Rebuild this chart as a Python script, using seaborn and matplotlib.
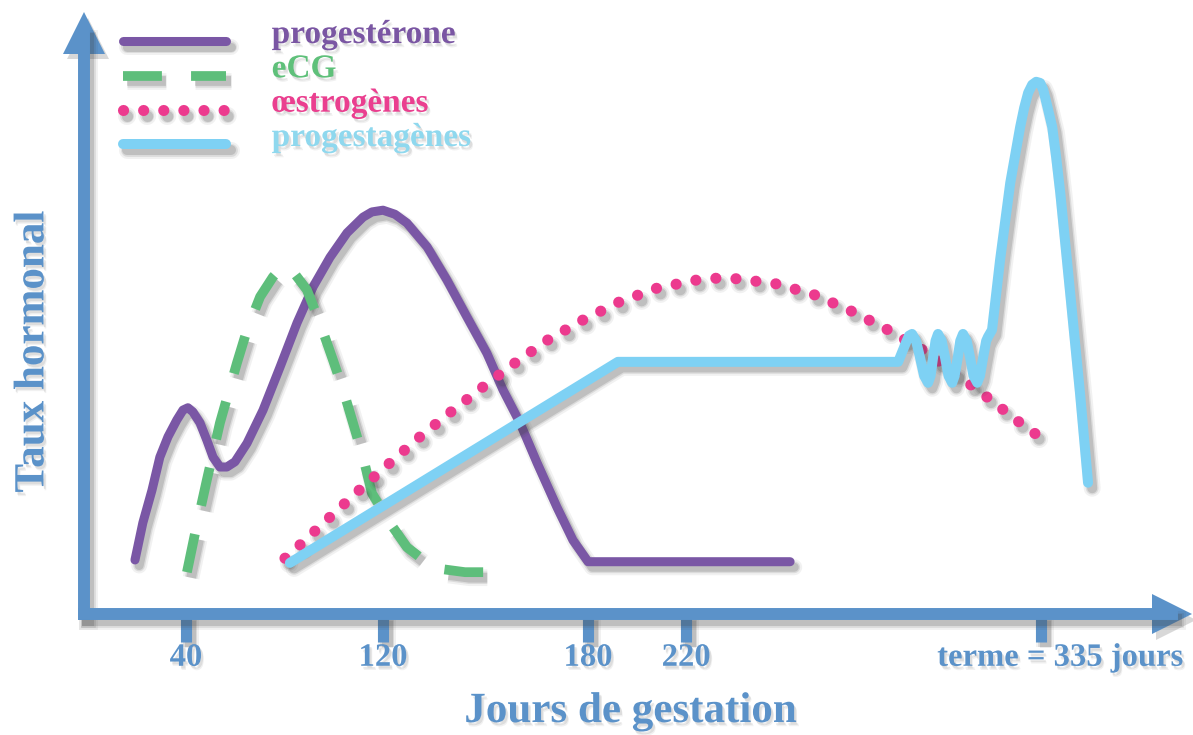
import numpy as np
import matplotlib
matplotlib.use("Agg")
import matplotlib.pyplot as plt
import matplotlib.patheffects as pe
from matplotlib.lines import Line2D
from matplotlib.legend_handler import HandlerLine2D
from matplotlib.transforms import ScaledTranslation
import seaborn as sns

progesterone_j = [19.3, 22.5, 26.2, 29.4, 32.7, 36.3, 38.8, 40.8, 42.8, 45.7,
                  48.5, 51.0, 53.8, 56.6, 59.9, 64.8, 71.3, 78.2, 85.1, 91.6,
                  98.5, 105.4, 111.9, 115.5, 120.0, 123.5, 127.0, 132.9, 138.7, 144.6,
                  150.4, 155.1, 160.1, 165.1, 170.9, 175.6, 180.0, 253.7]
progesterone_t = [9.3, 15.7, 21.3, 27.0, 30.5, 33.4, 35.1, 35.5, 34.8, 32.9,
                  29.9, 27.0, 25.3, 25.3, 26.2, 29.4, 35.1, 42.5, 50.1, 56.3,
                  61.4, 65.6, 68.3, 69.2, 69.5, 68.8, 67.3, 63.2, 57.5, 51.1,
                  44.9, 38.6, 32.9, 26.0, 18.4, 12.7, 9.0, 9.0]

ecg_j = [40.4, 43.7, 48.5, 53.8, 60.7, 64.8, 70.1, 75.3, 77.4, 79.4,
         81.4, 83.0, 89.1, 94.4, 99.7, 103.8, 107.8, 111.9, 115.5, 122.0,
         127.0, 132.3, 137.6, 144.0, 150.4]
ecg_t = [7.2, 13.9, 23.1, 32.9, 43.2, 48.9, 54.6, 58.0, 59.0, 59.6,
         59.9, 59.2, 55.8, 50.1, 43.7, 38.6, 32.9, 27.0, 20.8, 15.7,
         11.5, 9.1, 7.7, 7.2, 7.2]

oestro_j = [80.2, 86.3, 98.5, 110.3, 122.0, 130.8, 139.9, 149.3, 158.6, 168.3,
            178.5, 192.7, 208.2, 223.6, 230.0, 236.5, 249.5, 261.8, 274.1, 285.4,
            296.8, 307.1, 317.8, 328.2, 333.7]
oestro_t = [9.6, 11.9, 16.7, 21.3, 26.0, 30.5, 34.8, 39.1, 43.2, 47.2,
            50.6, 53.7, 56.1, 57.5, 57.8, 57.7, 56.8, 54.9, 52.0, 48.9,
            45.4, 41.5, 37.2, 32.9, 30.8]

progestag_j = [82.2, 192.2, 288.7, 290.0, 291.3, 292.2, 293.2, 294.5, 295.8, 297.1,
               298.4, 299.2, 300.0, 300.8, 301.6, 302.8, 303.9, 305.0, 306.2, 307.0,
               308.0, 308.8, 309.7, 310.9, 312.0, 313.1, 314.3, 315.2, 316.2, 317.2,
               317.8, 319.1, 321.7, 325.0, 328.2, 329.5, 330.8, 332.1, 333.4, 334.7,
               335.7, 336.9, 338.6, 339.9, 341.2, 344.4, 347.6, 350.2]
progestag_t = [8.8, 43.4, 43.4, 45.1, 46.8, 47.9, 48.2, 47.0, 44.1, 41.0,
               39.8, 41.0, 44.1, 47.0, 48.2, 47.0, 44.1, 41.0, 39.8, 41.0,
               44.1, 47.0, 48.2, 47.0, 44.1, 41.0, 39.8, 41.0, 44.1, 47.0,
               47.7, 48.9, 60.9, 74.2, 83.8, 87.1, 89.7, 91.1, 91.6, 91.4,
               90.2, 87.6, 83.8, 78.5, 72.5, 55.3, 38.0, 22.6]

tick_jours = [40, 120, 180, 220, 335]
tick_labels = ["40", "120", "180", "220", "terme = 335 jours"]

# l'axe du schéma n'est pas linéaire : position dessinée de chaque repère
echelle_jours = [-10, 40, 120, 180, 220, 335, 400]
echelle_pos = [62.9, 186, 383, 588, 686, 1041, 1241.6]

noms = ["progestérone", "eCG", "œstrogènes", "progestagènes"]
couleurs = ["#7A57A5", "#5EBE7B", "#EC3A8E", "#7ED1F4"]
couleurs_texte = ["#7A56A3", "#5FC07A", "#EA3F8F", "#8FD8EE"]
axe_c = "#5B92C9"


def ombre(lw):
    return [
        pe.SimpleLineShadow(offset=(3, -4), shadow_color="0.25", alpha=0.07, linewidth=lw + 5),
        pe.SimpleLineShadow(offset=(3, -4), shadow_color="0.25", alpha=0.12, linewidth=lw + 2),
        pe.SimpleLineShadow(offset=(3, -4), shadow_color="0.25", alpha=0.18, linewidth=lw),
        pe.Normal(),
    ]


ombre_txt = [
    pe.SimplePatchShadow(offset=(2, -3), shadow_rgbFace="0.3", alpha=0.08),
    pe.SimplePatchShadow(offset=(1.5, -2), shadow_rgbFace="0.3", alpha=0.12),
    pe.Normal(),
]


class LigneBasse(HandlerLine2D):
    # trait de légende au niveau de la ligne de base du texte
    def create_artists(self, legend, orig_handle, xdescent, ydescent, width, height, fontsize, trans):
        arts = super().create_artists(legend, orig_handle, xdescent, ydescent, width, height, fontsize, trans)
        for a in arts:
            a.set_ydata(np.asarray(a.get_ydata()) - 0.3 * fontsize)
        return arts


sns.set_theme(style="white")
plt.rcParams["font.family"] = ["Liberation Serif", "DejaVu Serif"]
plt.rcParams["font.weight"] = "bold"
plt.rcParams["axes.labelweight"] = "bold"

fig = plt.figure(figsize=(11.93, 7.35), dpi=100)
ax = fig.add_axes([84 / 1193, 1 - 614 / 735, 1088 / 1193, 581 / 735])

fwd = lambda x: np.interp(x, echelle_jours, echelle_pos)
inv = lambda p: np.interp(p, echelle_pos, echelle_jours)
ax.set_xscale("function", functions=(fwd, inv))

series = [(progesterone_j, progesterone_t), (ecg_j, ecg_t),
          (oestro_j, oestro_t), (progestag_j, progestag_t)]
largeurs = [6.5, 7.0, 8.0, 7.2]
lignes = []
for (xs, ys), nom, c, lw in zip(series, noms, couleurs, largeurs):
    sns.lineplot(x=xs, y=ys, sort=False, estimator=None, color=c,
                 linewidth=lw, ax=ax, label=nom, legend=False)
    ln = ax.lines[-1]
    ln.set_path_effects(ombre(lw))
    lignes.append(ln)

lignes[1].set_dashes([4, 3])
lignes[2].set_dashes([0.01, 1.8])
lignes[2].set_dash_capstyle("round")

ax.set_xlim(-1.4, 377.4)
ax.set_ylim(0, 100)

for s in ["top", "right"]:
    ax.spines[s].set_visible(False)
for s in ["left", "bottom"]:
    ax.spines[s].set_color(axe_c)
    ax.spines[s].set_linewidth(8.6)
    ax.spines[s].set_path_effects(ombre(8.6))

fleche_fx = [pe.SimplePatchShadow(offset=(3, -4), shadow_rgbFace="0.25", alpha=0.2), pe.Normal()]
ax.plot(1, 0, ">", ms=29, mew=0, color=axe_c, transform=ax.transAxes, clip_on=False,
        path_effects=fleche_fx)
ax.plot(0, 1, "^", ms=30, mew=0, color=axe_c, transform=ax.transAxes, clip_on=False,
        path_effects=fleche_fx)

ax.set_xticks(tick_jours, tick_labels)
ax.tick_params(axis="x", bottom=True, direction="out", length=20, width=8, color=axe_c,
               pad=0, labelsize=23.5, labelcolor=axe_c)
ax.tick_params(axis="y", left=False, labelleft=False)
for t in ax.xaxis.get_major_ticks():
    t.tick1line.set_path_effects(ombre(8))
    t.label1.set_path_effects(ombre_txt)
    t.label1.set_fontweight("bold")
lab = ax.get_xticklabels()[-1]
lab.set_transform(lab.get_transform() + ScaledTranslation(0.19, 0, fig.dpi_scale_trans))

ax.set_xlabel("Jours de gestation", fontsize=31, fontweight="bold", color=axe_c,
              path_effects=ombre_txt)
ax.xaxis.set_label_coords(0.502, -0.136)
ax.set_ylabel("Taux hormonal", fontsize=31, fontweight="bold", color=axe_c,
              path_effects=ombre_txt)
ax.yaxis.set_label_coords(-0.029, 0.451)

leg = ax.legend(handles=lignes, labels=noms, handler_map={Line2D: LigneBasse()},
                loc="upper left", bbox_to_anchor=(123 / 1193, 1 - 19 / 735),
                bbox_transform=fig.transFigure, frameon=False, fontsize=24,
                handlelength=3.1, handletextpad=1.36, labelspacing=0.1,
                borderpad=0, borderaxespad=0)
for txt, c in zip(leg.get_texts(), couleurs_texte):
    txt.set_color(c)
    txt.set_path_effects(ombre_txt)

fig.savefig("out.png", dpi=100)
